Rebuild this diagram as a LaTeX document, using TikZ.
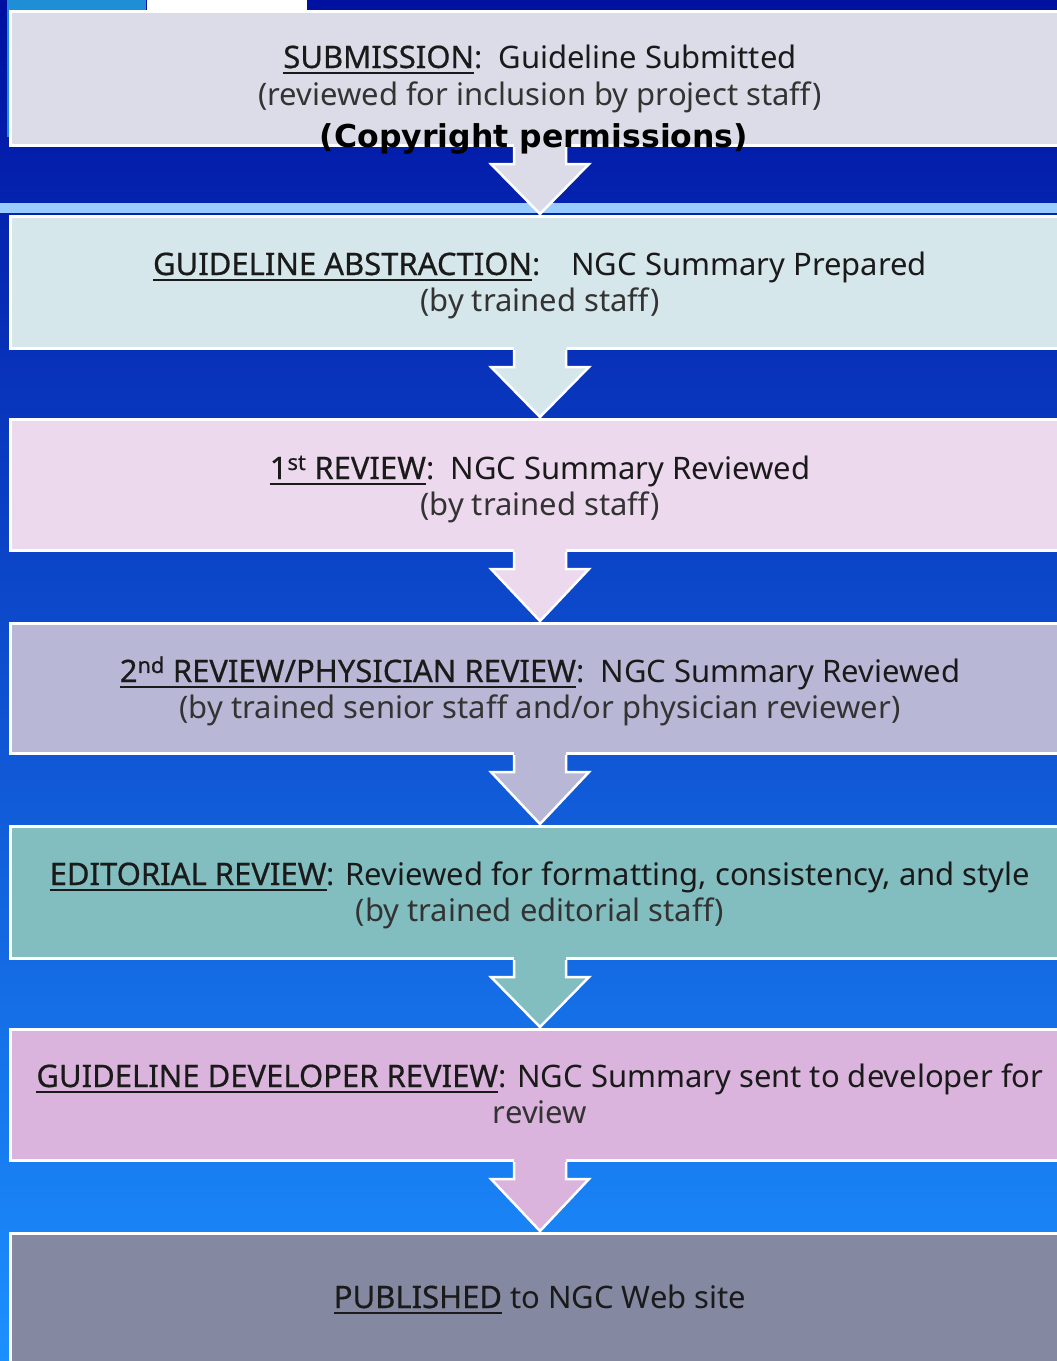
\documentclass[tikz,border=0pt]{standalone}
\usepackage{fontspec}
\setmainfont{Noto Sans}
\newfontfamily\hdrfont[FakeBold=0.6]{Noto Sans}
\newfontfamily\cpfont{DejaVu Sans}
\usetikzlibrary{calc}
\definecolor{bgtop}{HTML}{0010A0}
\definecolor{bgmid}{HTML}{1262D2}
\definecolor{bgbot}{HTML}{1C90FF}
\definecolor{stripe}{HTML}{99CCFF}
\definecolor{logoblue}{HTML}{1E8ED6}
\definecolor{cA}{HTML}{DCDCE8}
\definecolor{cB}{HTML}{D5E7EA}
\definecolor{cC}{HTML}{EDD9EE}
\definecolor{cD}{HTML}{B8B8D6}
\definecolor{cE}{HTML}{82BDBF}
\definecolor{cF}{HTML}{DAB4DC}
\definecolor{cG}{HTML}{8488A0}
\definecolor{txt}{HTML}{333333}
\definecolor{hdr}{HTML}{1A1A1A}
\newcommand\myul[1]{\setbox0\hbox{\hdrfont\color{hdr}#1}\rlap{\color{hdr}\rule[-6pt]{\wd0}{2.2pt}}\box0\relax}
\newcommand\blockarrow[3]{%
  \fill[#3] ($(#1.south)+(-26,-4)$) -- ($(#1.south)+(26,-4)$) -- ($(#1.south)+(26,17)$)
    -- ($(#1.south)+(49,17)$) -- ($(#2.north)+(0,-1)$) -- ($(#1.south)+(-49,17)$)
    -- ($(#1.south)+(-26,17)$) -- cycle;
  \draw[white, line width=2.5pt, line join=miter] ($(#1.south)+(-26,0)$) -- ($(#1.south)+(-26,17)$)
    -- ($(#1.south)+(-49,17)$) -- ($(#2.north)+(0,-1)$) -- ($(#1.south)+(49,17)$)
    -- ($(#1.south)+(26,17)$) -- ($(#1.south)+(26,0)$);
}
\tikzset{
  box/.style={draw=white, line width=3pt, rectangle, minimum width=1060pt, inner sep=0pt},
  lbl/.style={anchor=base, inner sep=0pt, text=txt, font=\fontsize{31}{36}\selectfont},
}
\begin{document}
\begin{tikzpicture}[x=1pt,y=-1pt]
\useasboundingbox (0,0) rectangle (1057,1361);
\clip (0,0) rectangle (1057,1361);
% background
\shade[top color=bgtop, middle color=bgmid, bottom color=bgbot] (0,0) rectangle (1057,1361);
\fill[stripe] (0,203) rectangle (1057,213);
% logo fragments
\fill[logoblue] (7,0) rectangle (146,137);
\fill[white] (147,0) rectangle (307,10);
\draw[red!30, line width=1pt] (170,12) arc[start angle=160, end angle=20, radius=35];
% boxes
\node[box, fill=cA, minimum height=134pt] (b1) at (540,78.5) {};
\node[box, fill=cB, minimum height=132pt] (b2) at (540,282.5) {};
\node[box, fill=cC, minimum height=131pt] (b3) at (540,485) {};
\node[box, fill=cD, minimum height=130pt] (b4) at (540,688.5) {};
\node[box, fill=cE, minimum height=132pt] (b5) at (540,892.5) {};
\node[box, fill=cF, minimum height=131pt] (b6) at (540,1095) {};
\node[box, fill=cG, minimum height=140pt] (b7) at (540,1303.5) {};
% arrows
\blockarrow{b1}{b2}{cA}
\blockarrow{b2}{b3}{cB}
\blockarrow{b3}{b4}{cC}
\blockarrow{b4}{b5}{cD}
\blockarrow{b5}{b6}{cE}
\blockarrow{b6}{b7}{cF}
% texts
\node[lbl] (t1a) at (540,68) {\myul{SUBMISSION}:\ \ Guideline Submitted};
\node[lbl] (t1b) at (540,105) {(reviewed for inclusion by project staff)};
\node[lbl, text=black, font=\cpfont\bfseries\fontsize{31.5}{36}\selectfont] (t1c) at (534,147) {(Copyright permissions)};
\node[lbl] (t2a) at (540,275) {\myul{GUIDELINE ABSTRACTION}:\quad NGC Summary Prepared};
\node[lbl] (t2b) at (540,311) {(by trained staff)};
\node[lbl] (t3a) at (540,479) {\myul{1\textsuperscript{st} REVIEW}:\ \ NGC Summary Reviewed};
\node[lbl] (t3b) at (540,515) {(by trained staff)};
\node[lbl] (t4a) at (540,682) {\myul{2\textsuperscript{nd} REVIEW/PHYSICIAN REVIEW}:\ \ NGC Summary Reviewed};
\node[lbl] (t4b) at (540,718) {(by trained senior staff and/or physician reviewer)};
\node[lbl] (t5a) at (540,885) {\myul{EDITORIAL REVIEW}: Reviewed for formatting, consistency, and style};
\node[lbl] (t5b) at (540,921) {(by trained editorial staff)};
\node[lbl] (t6a) at (540,1087) {\myul{GUIDELINE DEVELOPER REVIEW}: NGC Summary sent to developer for};
\node[lbl] (t6b) at (540,1123) {review};
\node[lbl] (t7) at (540,1308) {\myul{PUBLISHED} to NGC Web site};
\end{tikzpicture}
\end{document}
